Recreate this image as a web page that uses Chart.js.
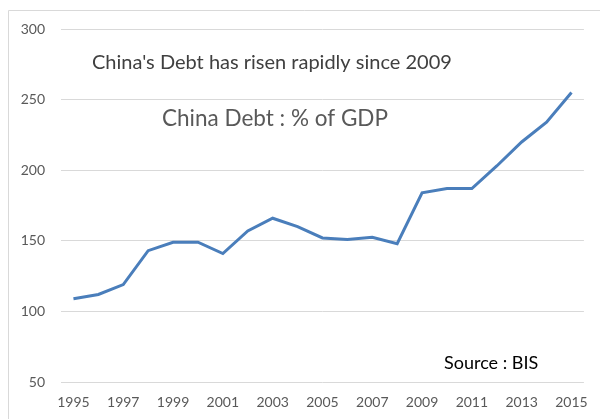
<!DOCTYPE html>
<html>
<head>
<meta charset="utf-8">
<script src="https://cdn.jsdelivr.net/npm/chart.js@4/dist/chart.umd.min.js"></script>
<style>
  html, body { margin: 0; padding: 0; background: #ffffff; }
  #wrap { width: 600px; height: 419px; }
</style>
</head>
<body>
<div id="wrap"><canvas id="c" width="600" height="419"></canvas></div>
<script>
// China total debt, % of GDP (BIS)
const years = ['1995','1996','1997','1998','1999','2000','2001','2002','2003','2004','2005',
               '2006','2007','2008','2009','2010','2011','2012','2013','2014','2015'];
const debtPctGdp = [109, 112, 119, 143, 149, 149, 141, 157, 166, 160, 152,
                    151, 152.5, 148, 184, 187, 187, 203, 220, 234, 255];
const yTicks = [50, 100, 150, 200, 250, 300];

const FONT = 'Lato, "Open Sans", sans-serif';

// Frame lines and annotation texts drawn on top of the chart
const decorations = {
  id: 'decorations',
  afterDraw(chart) {
    const ctx = chart.ctx;
    const a = chart.chartArea;
    ctx.save();
    ctx.strokeStyle = '#d9d9d9';
    ctx.lineWidth = 1;
    ctx.beginPath();
    ctx.moveTo(8.5, 419);
    ctx.lineTo(8.5, 10.5);
    ctx.lineTo(600, 10.5);
    ctx.stroke();

    ctx.textBaseline = 'middle';
    ctx.textAlign = 'left';
    ctx.fillStyle = '#404040';
    ctx.font = '20px ' + FONT;
    ctx.fillText("China's Debt has risen rapidly since 2009", a.left + 31, 63);
    ctx.fillStyle = '#595959';
    ctx.font = '22.5px ' + FONT;
    ctx.fillText('China Debt : % of GDP', a.left + 101, 119);
    ctx.fillStyle = '#000000';
    ctx.font = '18px ' + FONT;
    ctx.fillText('Source : BIS', a.left + 383, 363);
    ctx.restore();
  }
};

new Chart(document.getElementById('c'), {
  type: 'line',
  data: {
    labels: years,
    datasets: [{
      label: 'China Debt : % of GDP',
      data: debtPctGdp,
      borderColor: '#4a7ebb',
      borderWidth: 3,
      pointRadius: 0,
      tension: 0,
      fill: false
    }]
  },
  options: {
    responsive: false,
    animation: false,
    layout: { padding: { top: 29, right: 12, bottom: 0, left: 0 } },
    plugins: { legend: { display: false }, tooltip: { enabled: false } },
    scales: {
      x: {
        type: 'category',
        offset: true,
        grid: { display: false, drawTicks: false },
        border: { display: false },
        ticks: {
          autoSkip: false,
          maxRotation: 0,
          padding: 12,
          color: '#595959',
          font: { family: FONT, size: 14 },
          callback: function (v, i) { return i % 2 === 0 ? years[i] : ''; }
        },
        afterFit(s) { s.height = 37; }
      },
      y: {
        min: 50,
        max: 300,
        afterBuildTicks(s) { s.ticks = yTicks.map(v => ({ value: v })); },
        grid: { color: '#d9d9d9', lineWidth: 1, drawTicks: false },
        border: { display: false },
        ticks: {
          padding: 16,
          color: '#595959',
          font: { family: FONT, size: 14 }
        },
        afterFit(s) { s.width = 61; }
      }
    }
  },
  plugins: [decorations]
});
</script>
</body>
</html>
